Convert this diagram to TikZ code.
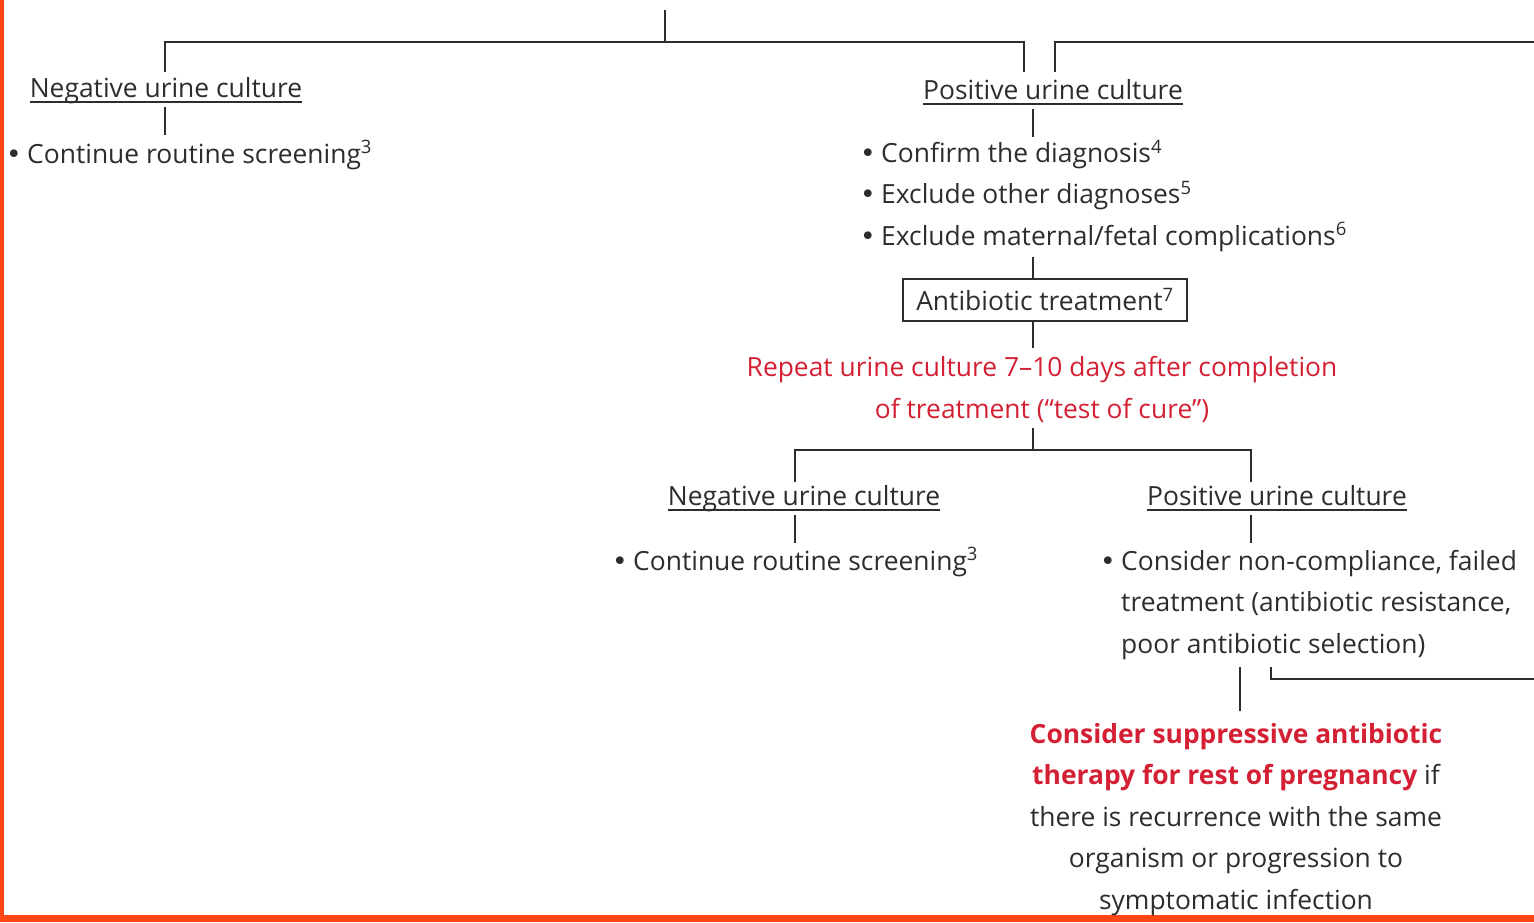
\documentclass[tikz,border=0pt]{standalone}
\usepackage{fontspec}
\setmainfont{Open Sans}
\newfontfamily\dvs{DejaVu Sans}
\definecolor{txt}{RGB}{45,45,45}
\definecolor{redt}{RGB}{212,32,52}
\definecolor{framec}{RGB}{255,70,20}
\newcommand\fs{\fontsize{26.4}{41.4}\selectfont}
\newcommand\bu{\makebox[21pt][l]{{\dvs •}}}
\newcommand\ind{\hspace*{21pt}}
\begin{document}
\begin{tikzpicture}[x=1pt,y=-1pt,
  every node/.style={inner sep=0pt, text=txt, font=\fs},
  conn/.style={draw=txt, line width=1.6pt},
  hd/.style={anchor=base},
  ul/.style={draw=txt, line width=1.2pt},
  bul/.style={anchor=base west, align=left},
  redtext/.style={text=redt, align=center, anchor=base},
  boxed/.style={draw=txt, line width=1.6pt, minimum width=284pt, minimum height=42pt}]
\useasboundingbox (0,0) rectangle (1534,922);
\fill[framec] (0,0) rectangle (4,922);
\fill[framec] (0,915) rectangle (1534,922);

% top level
\coordinate (top) at (665,10);
\coordinate (j1) at (665,42);
\coordinate (rightA) at (1534,42);
\node[hd] (neg1) at (166,97) {Negative urine culture};
\node[hd] (pos1) at (1053,99) {Positive urine culture};
\draw[ul] ([yshift=-5pt]neg1.base west) -- ([yshift=-5pt]neg1.base east);
\draw[ul] ([yshift=-5pt]pos1.base west) -- ([yshift=-5pt]pos1.base east);
\draw[conn] (top) -- (j1);
\draw[conn] ([xshift=-1pt,yshift=25pt]neg1.base) |- (j1) -| ([xshift=-29pt,yshift=27pt]pos1.base);
\draw[conn] ([xshift=2pt,yshift=27pt]pos1.base) |- (rightA);

\node[bul] (cont1) at (6,163) {\bu Continue routine screening\textsuperscript{3}};
\draw[conn] ([xshift=-1pt,yshift=-10pt]neg1.base) -- ([xshift=-1pt,yshift=-38pt]neg1.base);

\node[bul] (pb) at (860,245) {\bu Confirm the diagnosis\textsuperscript{4}\\\bu Exclude other diagnoses\textsuperscript{5}\\\bu Exclude maternal/fetal complications\textsuperscript{6}};
\draw[conn] ([xshift=-20pt,yshift=-10pt]pos1.base) -- ([xshift=-20pt,yshift=-38pt]pos1.base);

\node[boxed] (ab) at (1045,300) {Antibiotic treatment\textsuperscript{7}};
\draw[conn] ([yshift=-12pt]pb.base -| 1033,0) -- (ab.north -| 1033,0);
\node[redtext] (rep) at (1042,418) {Repeat urine culture 7–10 days after completion\\of treatment (“test of cure”)};
\draw[conn] (ab.south -| 1033,0) -- (1033,348);

% second level
\coordinate (j2) at (1033,450);
\node[hd] (neg2) at (804,505) {Negative urine culture};
\node[hd] (pos2) at (1277,505) {Positive urine culture};
\draw[ul] ([yshift=-5pt]neg2.base west) -- ([yshift=-5pt]neg2.base east);
\draw[ul] ([yshift=-5pt]pos2.base west) -- ([yshift=-5pt]pos2.base east);
\draw[conn] ([yshift=-10pt]rep.base -| 1033,0) -- (j2);
\draw[conn] ([xshift=-9pt,yshift=23pt]neg2.base) |- (j2) -| ([xshift=-26pt,yshift=23pt]pos2.base);

\node[bul] (cont2) at (612,570) {\bu Continue routine screening\textsuperscript{3}};
\draw[conn] ([xshift=-9pt,yshift=-10pt]neg2.base) -- ([xshift=-9pt,yshift=-38pt]neg2.base);

\node[bul] (cons) at (1100,653) {\bu Consider non-compliance, failed\\\ind treatment (antibiotic resistance,\\\ind poor antibiotic selection)};
\draw[conn] ([xshift=-26pt,yshift=-10pt]pos2.base) -- ([xshift=-26pt,yshift=-38pt]pos2.base);

\coordinate (rightB) at (1534,679);
\node[redtext, text=txt] (sup) at (1236,909) {\textcolor{redt}{\bfseries Consider suppressive antibiotic}\\\textcolor{redt}{\bfseries therapy for rest of pregnancy} if\\there is recurrence with the same\\organism or progression to\\symptomatic infection};
\draw[conn] ([yshift=-14pt]cons.base -| 1271,0) |- (rightB);
\draw[conn] ([yshift=-14pt]cons.base -| 1240,0) -- (1240,711);
\end{tikzpicture}
\end{document}
